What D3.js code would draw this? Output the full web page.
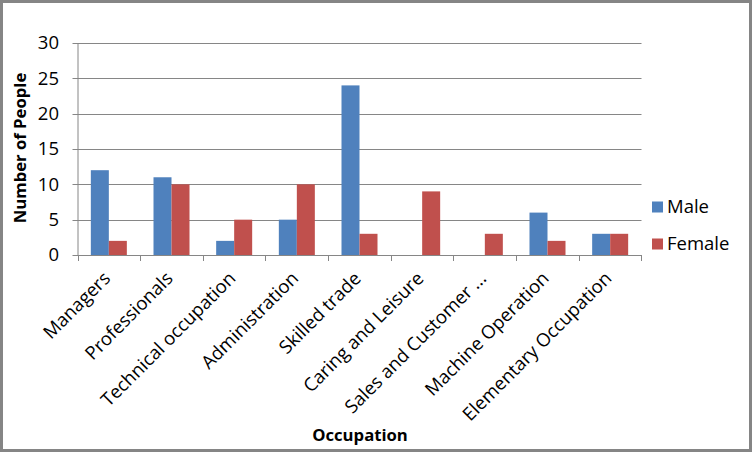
<!DOCTYPE html>
<html><head><meta charset="utf-8">
<script src="https://cdn.jsdelivr.net/npm/d3@7"></script>
<style>
body{margin:0;background:#fff;}
svg text{font-family:"Open Sans","Noto Sans",sans-serif;fill:#000;}
</style></head>
<body><svg id="c" width="752" height="452"></svg>
<script>
const categories = ["Managers","Professionals","Technical occupation","Administration","Skilled trade","Caring and Leisure","Sales and Customer ...","Machine Operation","Elementary Occupation"];
const male   = [12, 11, 2, 5, 24, 0, 0, 6, 3];
const female = [2, 10, 5, 10, 3, 9, 3, 2, 3];
const seriesNames = ["Male","Female"];
const yTicks = [0,5,10,15,20,25,30];

const colors = ["#4F81BD","#C0504D"];
const grid = "#868686";
const svg = d3.select("#c");
svg.append("rect").attr("x",1.5).attr("y",1.5).attr("width",749).attr("height",449)
  .attr("fill","#fff").attr("stroke","#858585").attr("stroke-width",3);

const L=77.5, R=641.5, T=43, B=255;
const x = d3.scaleBand().domain(categories).range([L,R]).paddingInner(0.4255).paddingOuter(0.2128);
const xs = d3.scaleBand().domain(seriesNames).range([0,x.bandwidth()]);
const y = d3.scaleLinear().domain([0,30]).range([B,T]);

// gridlines
svg.append("g").selectAll("line").data(yTicks).join("line")
  .attr("x1",L-5).attr("x2",R).attr("y1",d=>Math.round(y(d))+0.5).attr("y2",d=>Math.round(y(d))+0.5)
  .attr("stroke",grid).attr("stroke-width",1);
// y labels
svg.append("g").selectAll("text").data(yTicks).join("text")
  .attr("x",59).attr("y",d=>y(d)).attr("dy","0.35em").attr("text-anchor","end")
  .style("font-size","18.5px").text(d=>d);

// bars
const data = categories.map((c,i)=>({c, vals:[male[i],female[i]]}));
const g = svg.append("g").selectAll("g").data(data).join("g").attr("transform",d=>`translate(${x(d.c)},0)`);
g.selectAll("rect").data(d=>d.vals.map((v,j)=>({v,s:seriesNames[j],j}))).join("rect")
  .attr("x",d=>xs(d.s)).attr("width",xs.bandwidth()).attr("y",d=>y(d.v)).attr("height",d=>B-y(d.v))
  .attr("fill",d=>colors[d.j]);

// axes lines
svg.append("line").attr("x1",L+0.5).attr("x2",L+0.5).attr("y1",T).attr("y2",B).attr("stroke",grid);
svg.append("line").attr("x1",L).attr("x2",R).attr("y1",B+0.5).attr("y2",B+0.5).attr("stroke",grid);
const step = x.step();
const bounds = d3.range(categories.length+1).map(i=>L+i*step);
svg.append("g").selectAll("line").data(bounds).join("line")
  .attr("x1",d=>Math.round(d)+0.5).attr("x2",d=>Math.round(d)+0.5).attr("y1",B).attr("y2",B+6).attr("stroke",grid);

// category labels
svg.append("g").selectAll("text").data(categories).join("text")
  .attr("transform",d=>`translate(${x(d)+x.bandwidth()/2-2},${B+20}) rotate(-45)`)
  .attr("text-anchor","end").attr("dy","0.35em")
  .style("font-size","18.5px").text(d=>d);

// axis titles
svg.append("text").attr("x",360).attr("y",441).attr("text-anchor","middle")
  .style("font-size","16.7px").style("font-weight","bold").text("Occupation");
svg.append("text").attr("transform","translate(26,148) rotate(-90)").attr("text-anchor","middle")
  .style("font-size","16.7px").style("font-weight","bold").text("Number of People");

// legend
const lg = svg.append("g").selectAll("g").data(seriesNames).join("g")
  .attr("transform",(d,i)=>`translate(652,${207+i*37})`);
lg.append("rect").attr("x",0).attr("y",-5.5).attr("width",11).attr("height",11).attr("fill",(d,i)=>colors[i]);
lg.append("text").attr("x",15).attr("y",0).attr("dy","0.35em").style("font-size","18.5px").text(d=>d);
</script></body></html>
